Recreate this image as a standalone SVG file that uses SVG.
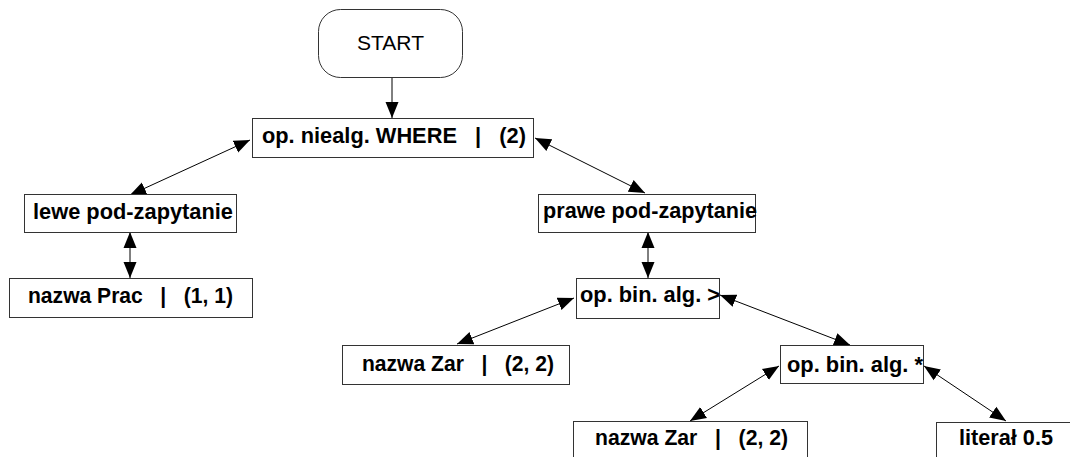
<svg xmlns="http://www.w3.org/2000/svg" width="1070" height="457" viewBox="0 0 1070 457">
<style>
.box{fill:#fff;stroke:#333;stroke-width:1}
.t{font-family:"Liberation Sans",Arial,sans-serif;font-size:21.5px;font-weight:bold;fill:#000;white-space:pre}
.s{font-family:"Liberation Sans",Arial,sans-serif;font-size:21px;fill:#000}
.c{stroke:#000;stroke-width:1;fill:none}
</style>
<defs>
<marker id="ah" markerUnits="userSpaceOnUse" markerWidth="17" markerHeight="14" refX="16" refY="7" orient="auto-start-reverse" viewBox="0 0 17 14">
<path d="M0,0.5 L16,7 L0,13.5 z" fill="#000"/>
</marker>
</defs>
<rect width="1070" height="457" fill="#fff"/>
<g id="connectors">
<line class="c" x1="392" y1="77" x2="392" y2="118" marker-end="url(#ah)"/>
<line class="c" x1="130" y1="195" x2="250" y2="140" marker-start="url(#ah)" marker-end="url(#ah)"/>
<line class="c" x1="535" y1="138" x2="645" y2="193" marker-start="url(#ah)" marker-end="url(#ah)"/>
<line class="c" x1="130" y1="232" x2="130" y2="278" marker-start="url(#ah)" marker-end="url(#ah)"/>
<line class="c" x1="648" y1="232" x2="648" y2="278" marker-start="url(#ah)" marker-end="url(#ah)"/>
<line class="c" x1="457" y1="344" x2="574" y2="298" marker-start="url(#ah)" marker-end="url(#ah)"/>
<line class="c" x1="720" y1="295" x2="850" y2="345" marker-start="url(#ah)" marker-end="url(#ah)"/>
<line class="c" x1="690" y1="421" x2="779" y2="366" marker-start="url(#ah)" marker-end="url(#ah)"/>
<line class="c" x1="924" y1="366" x2="1006" y2="421" marker-start="url(#ah)" marker-end="url(#ah)"/>
</g>
<g id="start"><rect class="box" x="318.5" y="9.5" width="144" height="68" rx="22"/><text class="s" x="357" y="50" textLength="67" lengthAdjust="spacingAndGlyphs">START</text></g>
<g id="where"><rect class="box" x="252.5" y="118.5" width="281" height="39"/><text class="t" x="262" y="143" textLength="264" lengthAdjust="spacingAndGlyphs">op. niealg. WHERE   |   (2)</text></g>
<g id="lewe"><rect class="box" x="24.5" y="194.5" width="212" height="38"/><text class="t" x="33" y="219" textLength="200" lengthAdjust="spacingAndGlyphs">lewe pod-zapytanie</text></g>
<g id="nazwaPrac"><rect class="box" x="9.5" y="278.5" width="243" height="39"/><text class="t" x="28" y="303" textLength="205" lengthAdjust="spacingAndGlyphs">nazwa Prac   |   (1, 1)</text></g>
<g id="prawe"><rect class="box" x="538.5" y="194.5" width="217" height="38"/><text class="t" x="543" y="218" textLength="214" lengthAdjust="spacingAndGlyphs">prawe pod-zapytanie</text></g>
<g id="binGt"><rect class="box" x="576.5" y="278.5" width="143" height="40"/><text class="t" x="580" y="302" textLength="140" lengthAdjust="spacingAndGlyphs">op. bin. alg. &gt;</text></g>
<g id="nazwaZar1"><rect class="box" x="342.5" y="345.5" width="227" height="39"/><text class="t" x="362" y="371" textLength="192" lengthAdjust="spacingAndGlyphs">nazwa Zar   |   (2, 2)</text></g>
<g id="binMul"><rect class="box" x="780.5" y="345.5" width="143" height="38"/><text class="t" x="787" y="372" textLength="136" lengthAdjust="spacingAndGlyphs">op. bin. alg. *</text></g>
<g id="nazwaZar2"><rect class="box" x="573.5" y="421.5" width="234" height="40"/><text class="t" x="595" y="445" textLength="193" lengthAdjust="spacingAndGlyphs">nazwa Zar   |   (2, 2)</text></g>
<g id="literal"><rect class="box" x="936.5" y="422.5" width="140" height="40"/><text class="t" x="959" y="445" textLength="94" lengthAdjust="spacingAndGlyphs">literał 0.5</text></g>
</svg>
